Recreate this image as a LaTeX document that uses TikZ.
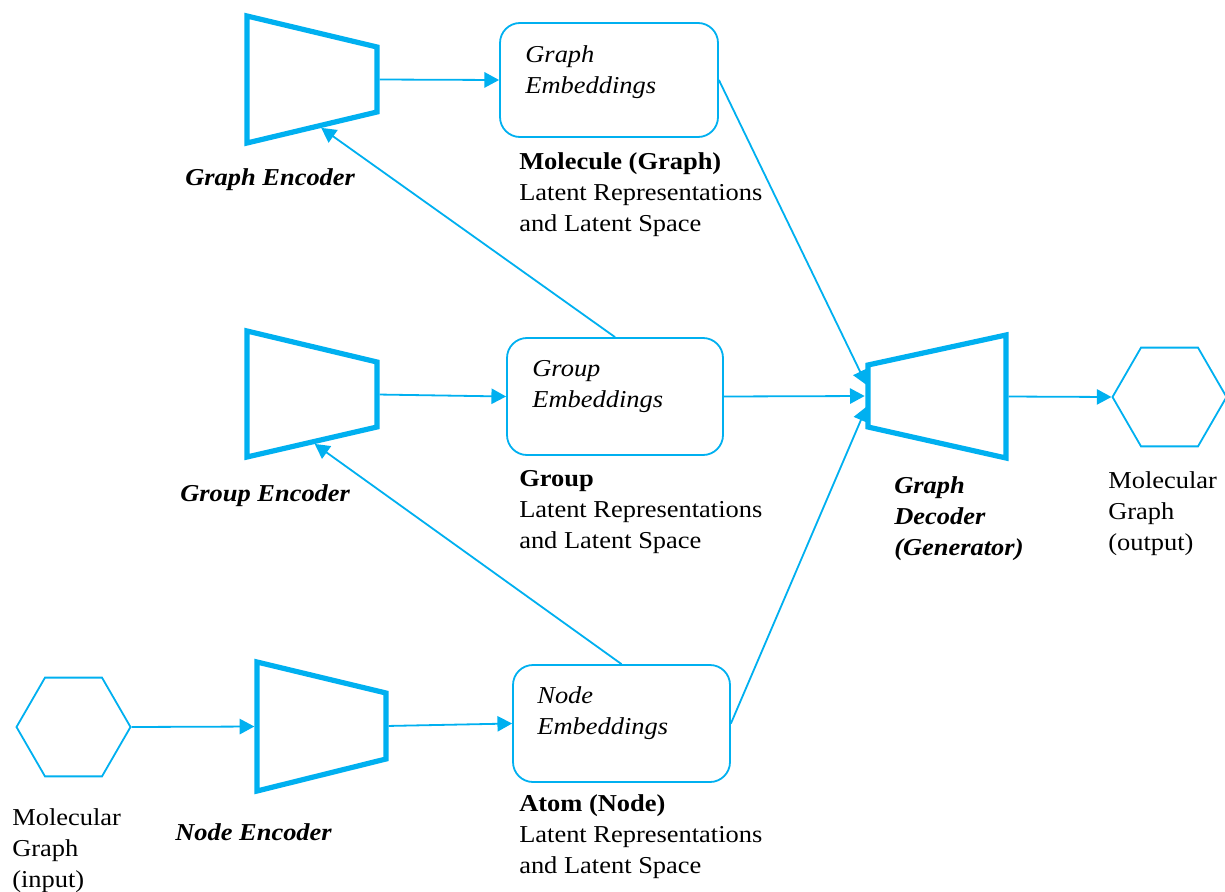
\documentclass[tikz,border=0pt]{standalone}
\usepackage{fontspec}
\setmainfont{Liberation Serif}[FakeStretch=1.09]
\usetikzlibrary{arrows.meta,shapes.geometric,calc}
\definecolor{cy}{RGB}{0,176,240}
\newcommand{\ml}[1]{\begin{tabular}[t]{@{}l@{}}#1\end{tabular}}
\begin{document}
\begin{tikzpicture}[x=0.75pt,y=-0.75pt,
  arr/.style={draw=cy, line width=1.35pt, -{Triangle[length=11pt,width=11.5pt]}},
  enc/.style={draw=cy, line width=3.9pt, line join=miter},
  emb/.style={draw=cy, line width=1.35pt, rounded corners=15pt, inner sep=0pt},
  hex/.style={draw=cy, line width=1.35pt, regular polygon, regular polygon sides=6, minimum size=85.5pt, inner sep=0pt},
  txt/.style={anchor=base west, inner sep=0pt, font=\fontsize{18.2}{23.6}\selectfont},
]
\path[fill=white, use as bounding box] (0,0) rectangle (1225,892);

% encoders (trapezoids)
\draw[enc] (247,16) coordinate (ge1) -- (377,47) coordinate (ge2) -- (377,112) coordinate (ge3) -- (247,143) coordinate (ge4) -- cycle;
\draw[enc] (247,331) coordinate (gr1) -- (377,362) coordinate (gr2) -- (377,427) coordinate (gr3) -- (247,457) coordinate (gr4) -- cycle;
\draw[enc] (257,662) coordinate (n1) -- (386,693) coordinate (n2) -- (386,759) coordinate (n3) -- (257,791) coordinate (n4) -- cycle;
\draw[enc] (868,365) coordinate (d1) -- (1006,335) coordinate (d2) -- (1006,458) coordinate (d3) -- (868,427) coordinate (d4) -- cycle;

% embedding boxes
\node[emb, minimum width=163.5pt, minimum height=85.5pt] (gemb) at (609,80) {};
\node[emb, minimum width=162pt, minimum height=87.75pt] (gremb) at (615,396.5) {};
\node[emb, minimum width=162.75pt, minimum height=87.75pt] (nemb) at (621.5,723.5) {};

% hexagons
\node[hex] (inhex) at (73.5,727) {};
\node[hex] (outhex) at (1169.5,397) {};

% texts in boxes
\node[txt] (gembt) at ($(gemb.north west)+(26,40)$) {\ml{\textit{Graph}\\\textit{Embeddings}}};
\node[txt] (grembt) at ($(gremb.north west)+(26,39)$) {\ml{\textit{Group}\\\textit{Embeddings}}};
\node[txt] (nembt) at ($(nemb.north west)+(25,39)$) {\ml{\textit{Node}\\\textit{Embeddings}}};

% labels
\node[txt] (gemblbl) at (519,169) {\ml{\textbf{Molecule (Graph)}\\Latent Representations\\and Latent Space}};
\node[txt] (gremblbl) at (519,486) {\ml{\textbf{Group}\\Latent Representations\\and Latent Space}};
\node[txt] (nemblbl) at (519,811) {\ml{\textbf{Atom (Node)}\\Latent Representations\\and Latent Space}};
\node[txt] (gelbl) at (185,185) {\textbf{\textit{Graph Encoder}}};
\node[txt] (grlbl) at (180,501) {\textbf{\textit{Group Encoder}}};
\node[txt] (nelbl) at (175,840) {\textbf{\textit{Node Encoder}}};
\node[txt] (delbl) at (894,493) {\ml{\textbf{\textit{Graph}}\\\textbf{\textit{Decoder}}\\\textbf{\textit{(Generator)}}}};
\node[txt] (outlbl) at (1108,488) {\ml{Molecular\\Graph\\(output)}};
\node[txt] (inlbl) at (12,825) {\ml{Molecular\\Graph\\(input)}};

% connection points
\coordinate (geout) at ($(ge2)!0.5!(ge3)$);
\coordinate (gerin) at ($(ge4)!0.55!(ge3)$);
\coordinate (grout) at ($(gr2)!0.5!(gr3)$);
\coordinate (grrin) at ($(gr4)!0.5!(gr3)$);
\coordinate (nin) at ($(n1)!0.5!(n4)$);
\coordinate (nout) at ($(n2)!0.5!(n3)$);
\coordinate (din1) at ($(d1)!0.37!(d4)$);
\coordinate (din2) at ($(d1)!0.5!(d4)$);
\coordinate (din3) at ($(d1)!0.62!(d4)$);
\coordinate (dout) at ($(d2)!0.5!(d3)$);

% connectors
\draw[arr, shorten <=2pt] (geout) -- (gemb.west);
\draw[arr, shorten <=2pt] (grout) -- (gremb.west);
\draw[arr, shorten <=2pt] (nout) -- (nemb.west);
\draw[arr, shorten >=2pt] (inhex.east) -- (nin);
\draw[arr, shorten >=2.5pt] (gremb.north) -- (gerin);
\draw[arr, shorten >=2.5pt] (nemb.north) -- (grrin);
\draw[arr, shorten >=2.5pt] (gemb.east) -- (din1);
\draw[arr, shorten >=2.5pt] (gremb.east) -- (din2);
\draw[arr, shorten >=2.5pt] (nemb.east) -- (din3);
\draw[arr, shorten <=2pt] (dout) -- (outhex.west);
\end{tikzpicture}
\end{document}
